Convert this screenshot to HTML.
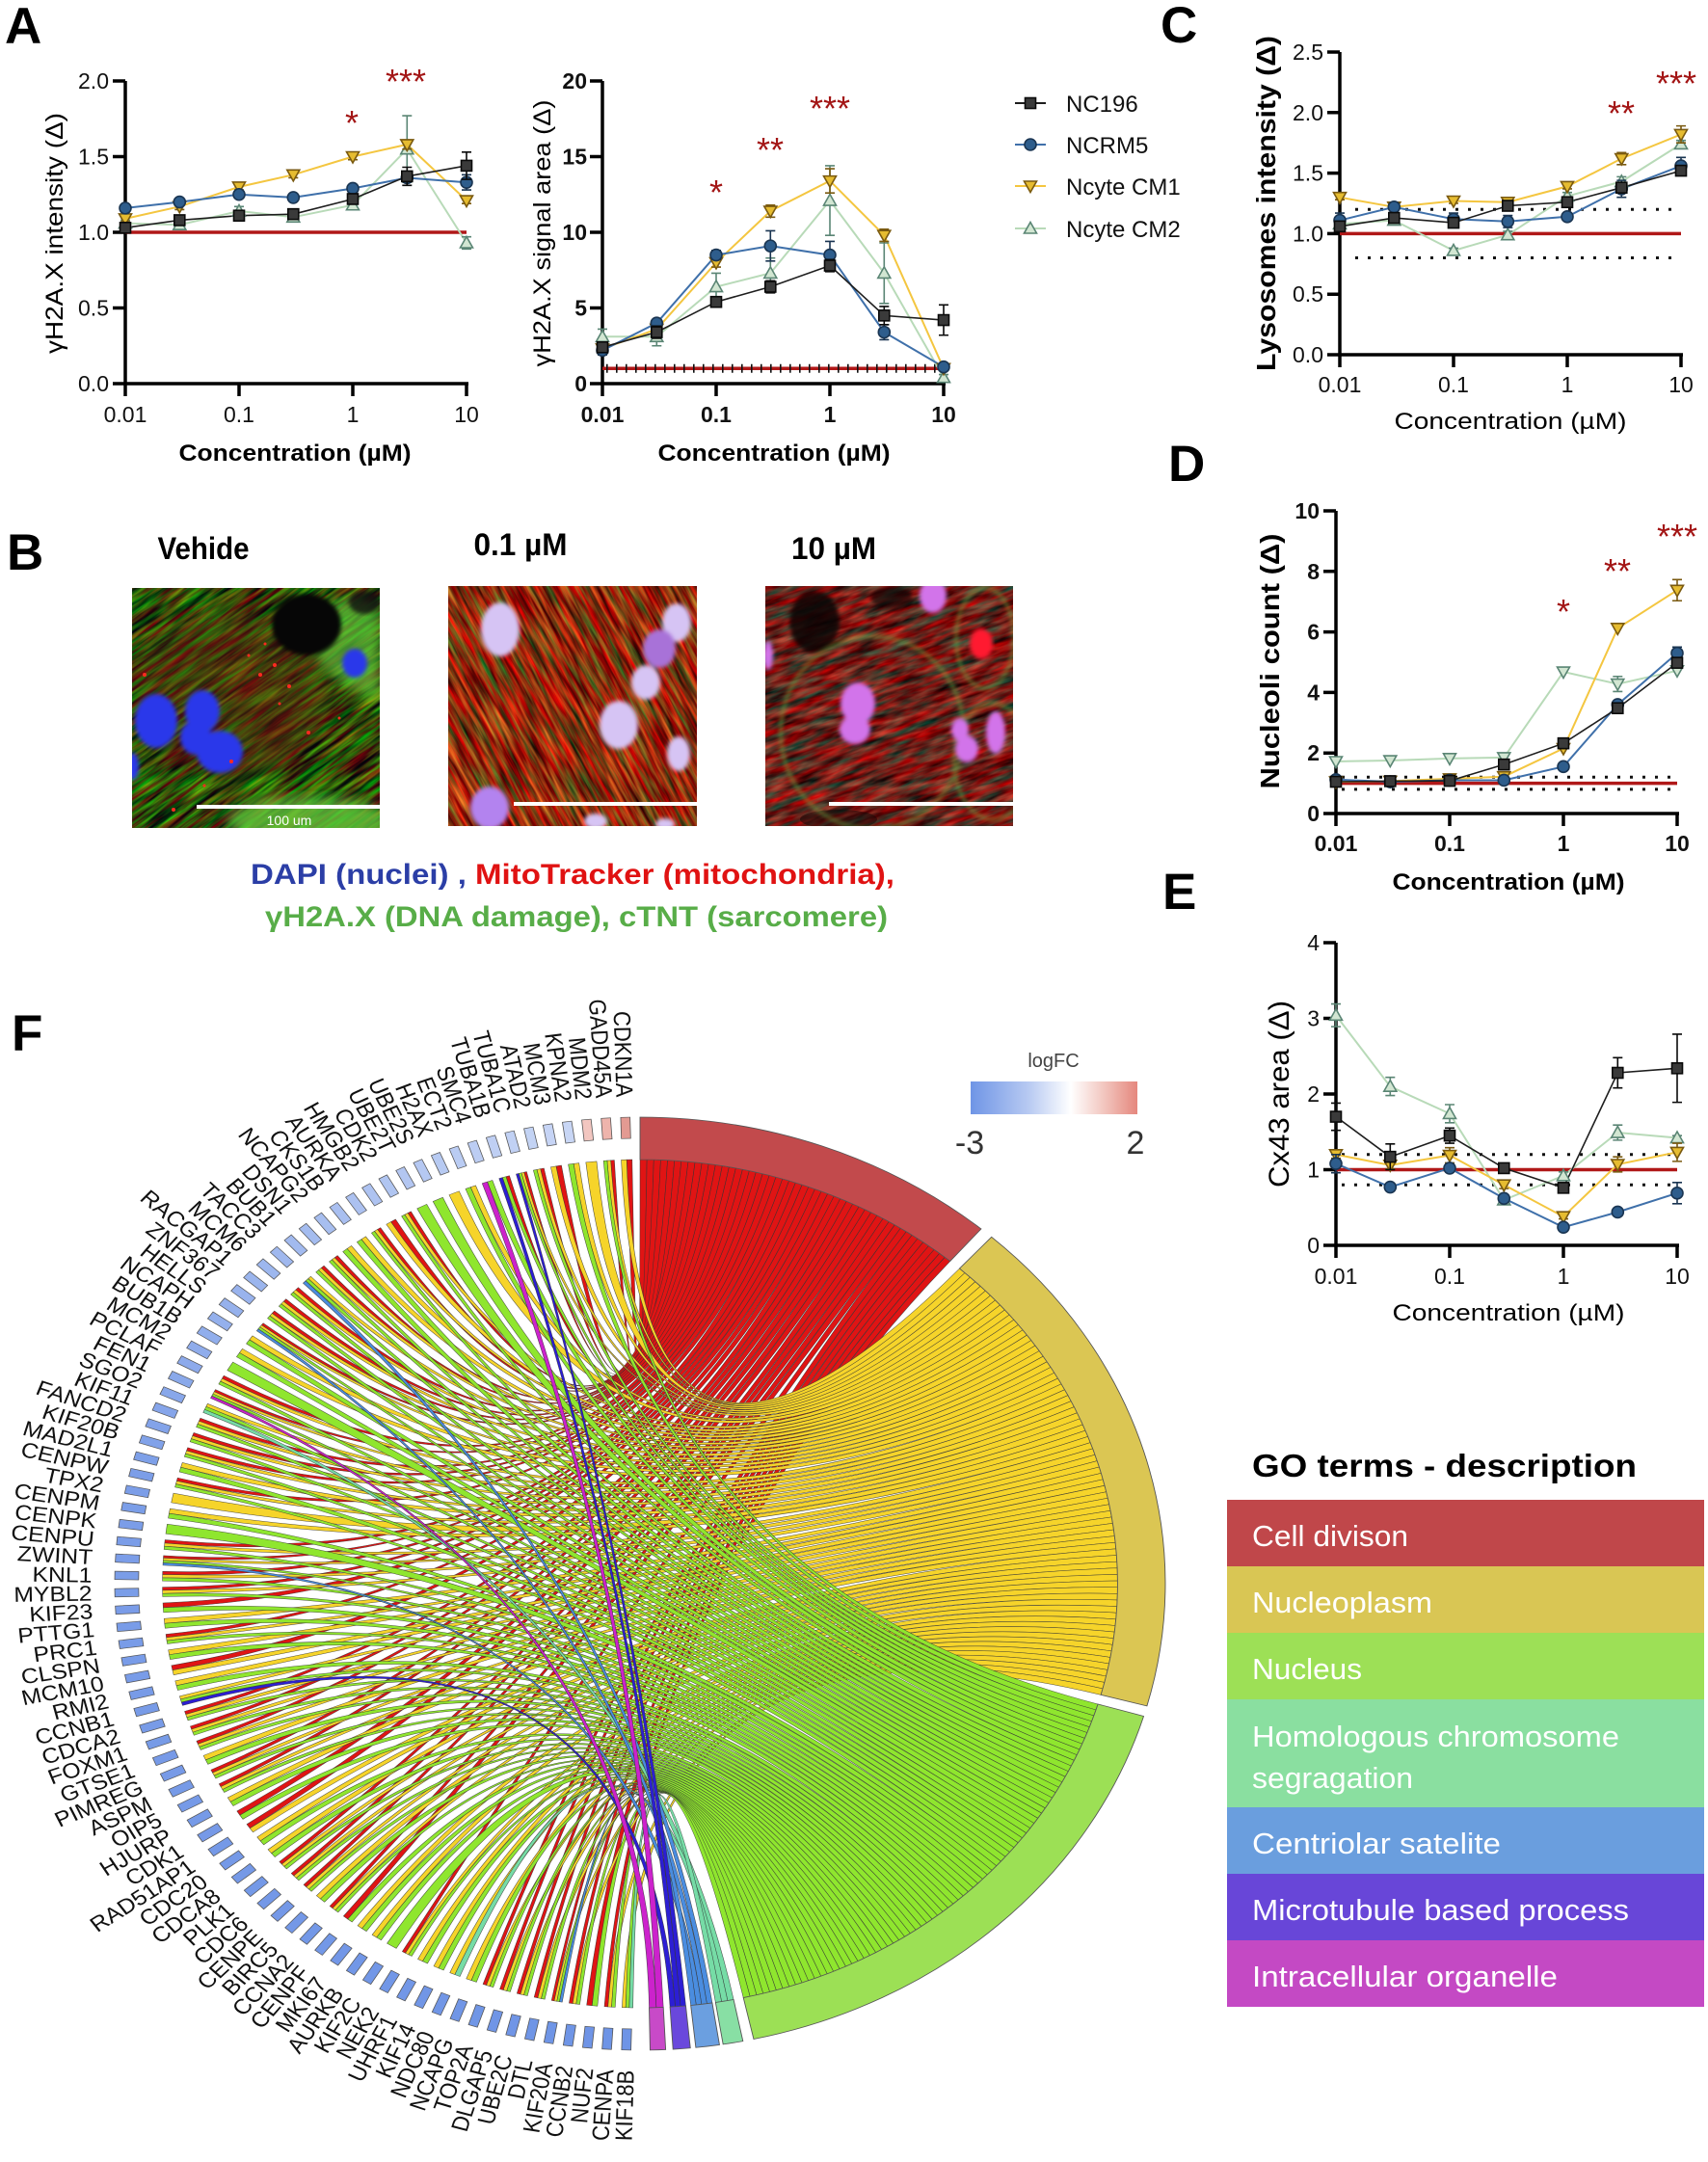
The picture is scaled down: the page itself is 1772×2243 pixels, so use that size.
<!DOCTYPE html>
<html><head><meta charset="utf-8">
<style>
html,body{margin:0;padding:0;background:#fff;width:1772px;height:2243px;overflow:hidden;}
svg{display:block;}
text{font-family:"Liberation Sans",sans-serif;}
</style></head><body>
<svg xmlns="http://www.w3.org/2000/svg" width="1772" height="2243" viewBox="0 0 1772 2243">
<defs>
<filter id="fib1" x="0" y="0" width="100%" height="100%" color-interpolation-filters="sRGB"><feTurbulence type="fractalNoise" baseFrequency="0.02 0.22" numOctaves="3" seed="4"/><feColorMatrix type="matrix" values="0 1.0 0 0 -0.3  1.4 0 0 0 -0.4  0 0 0 0 0.04  0 0 0 0 1"/></filter>
<filter id="fib2" x="0" y="0" width="100%" height="100%" color-interpolation-filters="sRGB"><feTurbulence type="fractalNoise" baseFrequency="0.02 0.22" numOctaves="3" seed="9"/><feColorMatrix type="matrix" values="0 1.4 0 0 -0.15  1.0 0 0 0 -0.32  0.3 0 0 0 -0.1  0 0 0 0 1"/></filter>
<filter id="fib3" x="0" y="0" width="100%" height="100%" color-interpolation-filters="sRGB"><feTurbulence type="fractalNoise" baseFrequency="0.03 0.15" numOctaves="3" seed="21"/><feColorMatrix type="matrix" values="0 1.2 0 0 -0.18  0.7 0 0 0 -0.22  0.5 0 0 0 -0.15  0 0 0 0 1"/></filter>
<filter id="bl2" color-interpolation-filters="sRGB"><feGaussianBlur stdDeviation="2"/></filter>
<filter id="bl6" color-interpolation-filters="sRGB"><feGaussianBlur stdDeviation="6"/></filter>
<clipPath id="c1"><rect x="137" y="610" width="257" height="249"/></clipPath>
<clipPath id="c2"><rect x="465" y="608" width="258" height="249"/></clipPath>
<clipPath id="c3"><rect x="794" y="608" width="257" height="249"/></clipPath>
<linearGradient id="lfc" x1="0" x2="1" y1="0" y2="0"><stop offset="0" stop-color="#6f95e6"/><stop offset="0.35" stop-color="#b8caf2"/><stop offset="0.6" stop-color="#ffffff"/><stop offset="0.8" stop-color="#f2c6bf"/><stop offset="1" stop-color="#e5877d"/></linearGradient>
</defs>
<rect width="1772" height="2243" fill="#fff"/>

<!-- Panel letters -->
<g font-size="53" font-weight="bold" fill="#000">
<text x="5" y="45">A</text>
<text x="1204" y="44">C</text>
<text x="7" y="591">B</text>
<text x="1212" y="499">D</text>
<text x="1206" y="943">E</text>
<text x="12" y="1090">F</text>
</g>

<!-- ===== A1 ===== -->
<g stroke="#000" fill="none" stroke-width="3.5">
<path d="M130,84 V398 H486"/>
<path d="M117,84H130M117,162.5H130M117,241H130M117,319.5H130M117,398H130"/>
<path d="M130,398V411M248,398V411M366,398V411M484,398V411"/>
</g>
<g font-size="23" text-anchor="end" fill="#111">
<text x="113" y="92">2.0</text><text x="113" y="170.5">1.5</text><text x="113" y="249">1.0</text><text x="113" y="327.5">0.5</text><text x="113" y="406">0.0</text>
</g>
<g font-size="23" text-anchor="middle" fill="#111">
<text x="130" y="438">0.01</text><text x="248" y="438">0.1</text><text x="366" y="438">1</text><text x="484" y="438">10</text>
</g>
<text x="306" y="478" text-anchor="middle" font-size="24" font-weight="bold" textLength="241" lengthAdjust="spacingAndGlyphs">Concentration (µM)</text>
<text transform="translate(65,242) rotate(-90)" text-anchor="middle" font-size="25" textLength="250" lengthAdjust="spacingAndGlyphs">γH2A.X intensity (Δ)</text>
<line x1="130" y1="241" x2="484" y2="241" stroke="#b01818" stroke-width="3.5"/>

<!-- ===== A2 ===== -->
<g stroke="#000" fill="none" stroke-width="3.5">
<path d="M625,84 V398 H981"/>
<path d="M612,84H625M612,162.5H625M612,241H625M612,319.5H625M612,398H625"/>
<path d="M625,398V411M743,398V411M861,398V411M979,398V411"/>
</g>
<g font-size="23" font-weight="bold" text-anchor="end" fill="#111">
<text x="609" y="92">20</text><text x="609" y="170.5">15</text><text x="609" y="249">10</text><text x="609" y="327.5">5</text><text x="609" y="406">0</text>
</g>
<g font-size="23" font-weight="bold" text-anchor="middle" fill="#111">
<text x="625" y="438">0.01</text><text x="743" y="438">0.1</text><text x="861" y="438">1</text><text x="979" y="438">10</text>
</g>
<text x="803" y="478" text-anchor="middle" font-size="24" font-weight="bold" textLength="241" lengthAdjust="spacingAndGlyphs">Concentration (µM)</text>
<text transform="translate(571,242) rotate(-90)" text-anchor="middle" font-size="25" textLength="277" lengthAdjust="spacingAndGlyphs">γH2A.X signal area (Δ)</text>
<line x1="625" y1="382.3" x2="979" y2="382.3" stroke="#b01818" stroke-width="3.5"/>
<line x1="629" y1="382.3" x2="979" y2="382.3" stroke="#111" stroke-width="9" stroke-dasharray="1.6 8.4"/>

<!-- legend -->
<g stroke-width="2">
<line x1="1053" y1="107" x2="1085" y2="107" stroke="#1e1e1e"/>
<line x1="1053" y1="150" x2="1085" y2="150" stroke="#3f70aa"/>
<line x1="1053" y1="193" x2="1085" y2="193" stroke="#f4c640"/>
<line x1="1053" y1="237" x2="1085" y2="237" stroke="#b8dab8"/>
</g>
<rect x="1063.5" y="101.5" width="11" height="11" fill="#3a3a3a" stroke="#0a0a0a" stroke-width="1.6"/>
<circle cx="1069" cy="150" r="6" fill="#2e5d8c" stroke="#1a3552" stroke-width="1.6"/>
<path d="M1062.5,188 L1075.5,188 L1069,199.5 Z" fill="#e6bc30" stroke="#7a5a10" stroke-width="1.6"/>
<path d="M1062.5,242 L1075.5,242 L1069,230.5 Z" fill="#d2e6d2" stroke="#5a8574" stroke-width="1.6"/>
<g font-size="24" fill="#111">
<text x="1106" y="116">NC196</text><text x="1106" y="159">NCRM5</text><text x="1106" y="202">Ncyte CM1</text><text x="1106" y="246">Ncyte CM2</text>
</g>

<!-- ===== C ===== -->
<g stroke="#000" fill="none" stroke-width="3.5">
<path d="M1390,54 V368 H1746"/>
<path d="M1377,54H1390M1377,116.8H1390M1377,179.6H1390M1377,242.4H1390M1377,305.2H1390M1377,368H1390"/>
<path d="M1390,368V381M1508,368V381M1626,368V381M1744,368V381"/>
</g>
<g font-size="23" text-anchor="end" fill="#111">
<text x="1373" y="62">2.5</text><text x="1373" y="124.8">2.0</text><text x="1373" y="187.6">1.5</text><text x="1373" y="250.4">1.0</text><text x="1373" y="313.2">0.5</text><text x="1373" y="376">0.0</text>
</g>
<g font-size="23" text-anchor="middle" fill="#111">
<text x="1390" y="407">0.01</text><text x="1508" y="407">0.1</text><text x="1626" y="407">1</text><text x="1744" y="407">10</text>
</g>
<text x="1567" y="445" text-anchor="middle" font-size="24" textLength="241" lengthAdjust="spacingAndGlyphs">Concentration (µM)</text>
<text transform="translate(1323,211) rotate(-90)" text-anchor="middle" font-size="28" font-weight="bold" textLength="348" lengthAdjust="spacingAndGlyphs">Lysosomes intensity (Δ)</text>
<g stroke="#111" stroke-width="3" stroke-dasharray="3 10">
<line x1="1406" y1="217.3" x2="1744" y2="217.3"/><line x1="1406" y1="267.5" x2="1744" y2="267.5"/>
</g>
<line x1="1390" y1="242.4" x2="1744" y2="242.4" stroke="#b01818" stroke-width="3.5"/>

<!-- ===== D ===== -->
<g stroke="#000" fill="none" stroke-width="3.5">
<path d="M1386,530 V844 H1742"/>
<path d="M1373,530H1386M1373,592.8H1386M1373,655.6H1386M1373,718.4H1386M1373,781.2H1386M1373,844H1386"/>
<path d="M1386,844V857M1504,844V857M1622,844V857M1740,844V857"/>
</g>
<g font-size="23" font-weight="bold" text-anchor="end" fill="#111">
<text x="1369" y="538">10</text><text x="1369" y="600.8">8</text><text x="1369" y="663.6">6</text><text x="1369" y="726.4">4</text><text x="1369" y="789.2">2</text><text x="1369" y="852">0</text>
</g>
<g font-size="23" font-weight="bold" text-anchor="middle" fill="#111">
<text x="1386" y="883">0.01</text><text x="1504" y="883">0.1</text><text x="1622" y="883">1</text><text x="1740" y="883">10</text>
</g>
<text x="1565" y="923" text-anchor="middle" font-size="24" font-weight="bold" textLength="241" lengthAdjust="spacingAndGlyphs">Concentration (µM)</text>
<text transform="translate(1327,686) rotate(-90)" text-anchor="middle" font-size="28" font-weight="bold" textLength="265" lengthAdjust="spacingAndGlyphs">Nucleoli count (Δ)</text>
<g stroke="#111" stroke-width="3" stroke-dasharray="3 10">
<line x1="1392" y1="806.3" x2="1740" y2="806.3"/><line x1="1392" y1="818.9" x2="1740" y2="818.9"/>
</g>
<line x1="1386" y1="812.6" x2="1740" y2="812.6" stroke="#b01818" stroke-width="3.5"/>

<!-- ===== E ===== -->
<g stroke="#000" fill="none" stroke-width="3.5">
<path d="M1386,978 V1292 H1742"/>
<path d="M1373,978H1386M1373,1056.5H1386M1373,1135H1386M1373,1213.5H1386M1373,1292H1386"/>
<path d="M1386,1292V1305M1504,1292V1305M1622,1292V1305M1740,1292V1305"/>
</g>
<g font-size="23" text-anchor="end" fill="#111">
<text x="1369" y="986">4</text><text x="1369" y="1064.5">3</text><text x="1369" y="1143">2</text><text x="1369" y="1221.5">1</text><text x="1369" y="1300">0</text>
</g>
<g font-size="23" text-anchor="middle" fill="#111">
<text x="1386" y="1332">0.01</text><text x="1504" y="1332">0.1</text><text x="1622" y="1332">1</text><text x="1740" y="1332">10</text>
</g>
<text x="1565" y="1370" text-anchor="middle" font-size="24" textLength="241" lengthAdjust="spacingAndGlyphs">Concentration (µM)</text>
<text transform="translate(1337,1135) rotate(-90)" text-anchor="middle" font-size="30" textLength="194" lengthAdjust="spacingAndGlyphs">Cx43 area (Δ)</text>
<g stroke="#111" stroke-width="3" stroke-dasharray="3 10">
<line x1="1392" y1="1197.8" x2="1740" y2="1197.8"/><line x1="1392" y1="1229.2" x2="1740" y2="1229.2"/>
</g>
<line x1="1386" y1="1213.5" x2="1740" y2="1213.5" stroke="#b01818" stroke-width="3.5"/>

<!-- data series container -->
<g id="dyn"></g>

<!-- stars -->
<g font-size="36" fill="#a31515" text-anchor="middle">
<text x="365" y="140">*</text><text x="421" y="97">***</text>
<text x="743" y="212">*</text><text x="799" y="168">**</text><text x="861" y="125">***</text>
<text x="1682" y="130">**</text><text x="1739" y="99">***</text>
<text x="1622" y="647">*</text><text x="1678" y="605">**</text><text x="1740" y="569">***</text>
</g>

<!-- ===== B ===== -->
<g font-size="32" font-weight="bold" text-anchor="middle" fill="#000">
<text x="211" y="580" textLength="95" lengthAdjust="spacingAndGlyphs">Vehide</text>
<text x="540" y="576" textLength="97" lengthAdjust="spacingAndGlyphs">0.1 µM</text>
<text x="865" y="580" textLength="88" lengthAdjust="spacingAndGlyphs">10 µM</text>
</g>
<!-- image 1 -->
<g clip-path="url(#c1)">
<rect x="137" y="610" width="257" height="249" fill="#22280f"/>
<g transform="rotate(-35 265 735)"><rect x="20" y="480" width="490" height="510" filter="url(#fib1)" opacity="0.9"/></g>
<ellipse cx="240" cy="720" rx="100" ry="85" fill="#6a2410" opacity="0.4" filter="url(#bl6)"/>
<path d="M325,640 C350,615 394,615 394,640 L394,725 C370,718 345,705 330,685 Z" fill="#5ec83a" opacity="0.7" filter="url(#bl6)"/>
<ellipse cx="318" cy="648" rx="36" ry="32" fill="#060606" filter="url(#bl2)"/>
<ellipse cx="378" cy="625" rx="16" ry="12" fill="#101010" opacity="0.8" filter="url(#bl2)"/>
<ellipse cx="320" cy="852" rx="85" ry="26" fill="#68cc3e" opacity="0.75" filter="url(#bl6)"/>
<g fill="#2a38ea" filter="url(#bl2)">
<ellipse cx="162" cy="748" rx="22" ry="28"/><ellipse cx="210" cy="738" rx="18" ry="22"/><ellipse cx="203" cy="765" rx="16" ry="18"/><ellipse cx="228" cy="780" rx="24" ry="22"/><ellipse cx="368" cy="688" rx="13" ry="15"/><ellipse cx="138" cy="795" rx="6" ry="14"/>
</g>
<g fill="#ff2a20"><circle cx="270" cy="700" r="2"/><circle cx="285" cy="690" r="2"/><circle cx="300" cy="712" r="2"/><circle cx="258" cy="680" r="1.5"/><circle cx="240" cy="790" r="2"/><circle cx="320" cy="760" r="2"/><circle cx="352" cy="745" r="1.5"/><circle cx="180" cy="840" r="2"/><circle cx="150" cy="700" r="2"/><circle cx="212" cy="815" r="1.5"/><circle cx="290" cy="730" r="1.5"/><circle cx="275" cy="668" r="1.5"/></g>
<rect x="204" y="835" width="190" height="4" fill="#fff"/>
<text x="300" y="856" font-size="14" fill="#fff" text-anchor="middle">100 um</text>
</g>
<!-- image 2 -->
<g clip-path="url(#c2)">
<rect x="465" y="608" width="258" height="249" fill="#7e2c1a"/>
<g transform="rotate(62 594 732)"><rect x="350" y="480" width="490" height="510" filter="url(#fib2)" opacity="0.92"/></g>
<g fill="#d6c4f4" filter="url(#bl2)">
<ellipse cx="519" cy="653" rx="20" ry="28"/><ellipse cx="702" cy="646" rx="15" ry="20"/><ellipse cx="684" cy="673" rx="17" ry="20" fill="#a872d8"/><ellipse cx="670" cy="708" rx="15" ry="18"/><ellipse cx="642" cy="752" rx="20" ry="25"/><ellipse cx="704" cy="782" rx="12" ry="18"/><ellipse cx="508" cy="838" rx="20" ry="22" fill="#b383ef"/><ellipse cx="618" cy="852" rx="12" ry="8"/><ellipse cx="690" cy="855" rx="10" ry="6"/>
</g>
<rect x="533" y="832" width="190" height="4" fill="#fff"/>
</g>
<!-- image 3 -->
<g clip-path="url(#c3)">
<rect x="794" y="608" width="257" height="249" fill="#6a2420"/>
<g transform="rotate(-20 922 732)"><rect x="680" y="480" width="490" height="510" filter="url(#fib3)" opacity="0.92"/></g>
<ellipse cx="845" cy="645" rx="26" ry="32" fill="#0a0404" opacity="0.85" filter="url(#bl2)"/>
<ellipse cx="925" cy="620" rx="22" ry="12" fill="#0a0505" opacity="0.7" filter="url(#bl2)"/>
<ellipse cx="870" cy="850" rx="40" ry="10" fill="#0a0505" opacity="0.5"/>
<g fill="none" stroke="#6da040" stroke-width="4" opacity="0.55" filter="url(#bl2)">
<ellipse cx="1022" cy="662" rx="30" ry="52"/><ellipse cx="905" cy="760" rx="95" ry="100"/><ellipse cx="1030" cy="790" rx="40" ry="60"/>
</g>
<ellipse cx="1018" cy="668" rx="12" ry="16" fill="#ff1a30" filter="url(#bl2)"/>
<g fill="#d274ea" filter="url(#bl2)">
<ellipse cx="968" cy="618" rx="14" ry="18"/><ellipse cx="890" cy="730" rx="18" ry="22"/><ellipse cx="887" cy="757" rx="16" ry="15"/><ellipse cx="996" cy="757" rx="9" ry="12"/><ellipse cx="1003" cy="777" rx="12" ry="14"/><ellipse cx="1033" cy="760" rx="10" ry="22"/><ellipse cx="797" cy="680" rx="5" ry="15"/>
</g>
<rect x="860" y="832" width="191" height="4" fill="#fff"/>
</g>
<text x="260" y="917" font-size="30" font-weight="bold" textLength="668" lengthAdjust="spacingAndGlyphs"><tspan fill="#2b3ea6">DAPI (nuclei) , </tspan><tspan fill="#e01212">MitoTracker (mitochondria),</tspan></text>
<text x="275" y="961" font-size="30" font-weight="bold" fill="#58ad48" textLength="646" lengthAdjust="spacingAndGlyphs">γH2A.X (DNA damage), cTNT (sarcomere)</text>

<!-- ===== logFC legend ===== -->
<text x="1093" y="1107" font-size="20" fill="#444" text-anchor="middle">logFC</text>
<rect x="1007" y="1122" width="173" height="34" fill="url(#lfc)"/>
<text x="1006" y="1197" font-size="34" fill="#333" text-anchor="middle">-3</text>
<text x="1178" y="1197" font-size="34" fill="#333" text-anchor="middle">2</text>

<!-- ===== F chord ===== -->
<g id="chordg" transform="translate(664,1643) scale(1.126,1)">
<g id="rib"></g>
<g id="bands"></g>
<g id="gboxes"></g>
<g font-size="22" text-anchor="end" fill="#111">
<text transform="rotate(88.40) translate(-505,0)" dy="0.35em">CDKN1A</text>
<text transform="rotate(86.27) translate(-505,0)" dy="0.35em">GADD45A</text>
<text transform="rotate(84.14) translate(-505,0)" dy="0.35em">MDM2</text>
<text transform="rotate(82.01) translate(-505,0)" dy="0.35em">KPNA2</text>
<text transform="rotate(79.87) translate(-505,0)" dy="0.35em">MCM3</text>
<text transform="rotate(77.74) translate(-505,0)" dy="0.35em">ATAD2</text>
<text transform="rotate(75.61) translate(-505,0)" dy="0.35em">TUBA1C</text>
<text transform="rotate(73.48) translate(-505,0)" dy="0.35em">TUBA1B</text>
<text transform="rotate(71.35) translate(-505,0)" dy="0.35em">SMC4</text>
<text transform="rotate(69.22) translate(-505,0)" dy="0.35em">ECT2</text>
<text transform="rotate(67.09) translate(-505,0)" dy="0.35em">H2AX</text>
<text transform="rotate(64.96) translate(-505,0)" dy="0.35em">UBE2S</text>
<text transform="rotate(62.82) translate(-505,0)" dy="0.35em">UBE2T</text>
<text transform="rotate(60.69) translate(-505,0)" dy="0.35em">CDK2</text>
<text transform="rotate(58.56) translate(-505,0)" dy="0.35em">HMGB2</text>
<text transform="rotate(56.43) translate(-505,0)" dy="0.35em">AURKA</text>
<text transform="rotate(54.30) translate(-505,0)" dy="0.35em">CKS1B</text>
<text transform="rotate(52.17) translate(-505,0)" dy="0.35em">NCAPG2</text>
<text transform="rotate(50.04) translate(-505,0)" dy="0.35em">DSN1</text>
<text transform="rotate(47.91) translate(-505,0)" dy="0.35em">BUB1</text>
<text transform="rotate(45.77) translate(-505,0)" dy="0.35em">TACC3</text>
<text transform="rotate(43.64) translate(-505,0)" dy="0.35em">MCM6</text>
<text transform="rotate(41.51) translate(-505,0)" dy="0.35em">RACGAP1</text>
<text transform="rotate(39.38) translate(-505,0)" dy="0.35em">ZNF367</text>
<text transform="rotate(37.25) translate(-505,0)" dy="0.35em">HELLS</text>
<text transform="rotate(35.12) translate(-505,0)" dy="0.35em">NCAPH</text>
<text transform="rotate(32.99) translate(-505,0)" dy="0.35em">BUB1B</text>
<text transform="rotate(30.86) translate(-505,0)" dy="0.35em">MCM2</text>
<text transform="rotate(28.72) translate(-505,0)" dy="0.35em">PCLAF</text>
<text transform="rotate(26.59) translate(-505,0)" dy="0.35em">FEN1</text>
<text transform="rotate(24.46) translate(-505,0)" dy="0.35em">SGO2</text>
<text transform="rotate(22.33) translate(-505,0)" dy="0.35em">KIF11</text>
<text transform="rotate(20.20) translate(-505,0)" dy="0.35em">FANCD2</text>
<text transform="rotate(18.07) translate(-505,0)" dy="0.35em">KIF20B</text>
<text transform="rotate(15.94) translate(-505,0)" dy="0.35em">MAD2L1</text>
<text transform="rotate(13.81) translate(-505,0)" dy="0.35em">CENPW</text>
<text transform="rotate(11.67) translate(-505,0)" dy="0.35em">TPX2</text>
<text transform="rotate(9.54) translate(-505,0)" dy="0.35em">CENPM</text>
<text transform="rotate(7.41) translate(-505,0)" dy="0.35em">CENPK</text>
<text transform="rotate(5.28) translate(-505,0)" dy="0.35em">CENPU</text>
<text transform="rotate(3.15) translate(-505,0)" dy="0.35em">ZWINT</text>
<text transform="rotate(1.02) translate(-505,0)" dy="0.35em">KNL1</text>
<text transform="rotate(-1.11) translate(-505,0)" dy="0.35em">MYBL2</text>
<text transform="rotate(-3.24) translate(-505,0)" dy="0.35em">KIF23</text>
<text transform="rotate(-5.38) translate(-505,0)" dy="0.35em">PTTG1</text>
<text transform="rotate(-7.51) translate(-505,0)" dy="0.35em">PRC1</text>
<text transform="rotate(-9.64) translate(-505,0)" dy="0.35em">CLSPN</text>
<text transform="rotate(-11.77) translate(-505,0)" dy="0.35em">MCM10</text>
<text transform="rotate(-13.90) translate(-505,0)" dy="0.35em">RMI2</text>
<text transform="rotate(-16.03) translate(-505,0)" dy="0.35em">CCNB1</text>
<text transform="rotate(-18.16) translate(-505,0)" dy="0.35em">CDCA2</text>
<text transform="rotate(-20.29) translate(-505,0)" dy="0.35em">FOXM1</text>
<text transform="rotate(-22.43) translate(-505,0)" dy="0.35em">GTSE1</text>
<text transform="rotate(-24.56) translate(-505,0)" dy="0.35em">PIMREG</text>
<text transform="rotate(-26.69) translate(-505,0)" dy="0.35em">ASPM</text>
<text transform="rotate(-28.82) translate(-505,0)" dy="0.35em">OIP5</text>
<text transform="rotate(-30.95) translate(-505,0)" dy="0.35em">HJURP</text>
<text transform="rotate(-33.08) translate(-505,0)" dy="0.35em">CDK1</text>
<text transform="rotate(-35.21) translate(-505,0)" dy="0.35em">RAD51AP1</text>
<text transform="rotate(-37.34) translate(-505,0)" dy="0.35em">CDC20</text>
<text transform="rotate(-39.48) translate(-505,0)" dy="0.35em">CDCA8</text>
<text transform="rotate(-41.61) translate(-505,0)" dy="0.35em">PLK1</text>
<text transform="rotate(-43.74) translate(-505,0)" dy="0.35em">CDC6</text>
<text transform="rotate(-45.87) translate(-505,0)" dy="0.35em">CENPE</text>
<text transform="rotate(-48.00) translate(-505,0)" dy="0.35em">BIRC5</text>
<text transform="rotate(-50.13) translate(-505,0)" dy="0.35em">CCNA2</text>
<text transform="rotate(-52.26) translate(-505,0)" dy="0.35em">CENPF</text>
<text transform="rotate(-54.39) translate(-505,0)" dy="0.35em">MKI67</text>
<text transform="rotate(-56.53) translate(-505,0)" dy="0.35em">AURKB</text>
<text transform="rotate(-58.66) translate(-505,0)" dy="0.35em">KIF2C</text>
<text transform="rotate(-60.79) translate(-505,0)" dy="0.35em">NEK2</text>
<text transform="rotate(-62.92) translate(-505,0)" dy="0.35em">UHRF1</text>
<text transform="rotate(-65.05) translate(-505,0)" dy="0.35em">KIF14</text>
<text transform="rotate(-67.18) translate(-505,0)" dy="0.35em">NDC80</text>
<text transform="rotate(-69.31) translate(-505,0)" dy="0.35em">NCAPG</text>
<text transform="rotate(-71.44) translate(-505,0)" dy="0.35em">TOP2A</text>
<text transform="rotate(-73.58) translate(-505,0)" dy="0.35em">DLGAP5</text>
<text transform="rotate(-75.71) translate(-505,0)" dy="0.35em">UBE2C</text>
<text transform="rotate(-77.84) translate(-505,0)" dy="0.35em">DTL</text>
<text transform="rotate(-79.97) translate(-505,0)" dy="0.35em">KIF20A</text>
<text transform="rotate(-82.10) translate(-505,0)" dy="0.35em">CCNB2</text>
<text transform="rotate(-84.23) translate(-505,0)" dy="0.35em">NUF2</text>
<text transform="rotate(-86.36) translate(-505,0)" dy="0.35em">CENPA</text>
<text transform="rotate(-88.49) translate(-505,0)" dy="0.35em">KIF18B</text>
</g>
</g>

<!-- ===== GO legend ===== -->
<text x="1299" y="1532" font-size="33" font-weight="bold" textLength="399" lengthAdjust="spacingAndGlyphs">GO terms - description</text>
<rect x="1273" y="1556" width="495" height="69" fill="#c0474a"/>
<rect x="1273" y="1625" width="495" height="69" fill="#d9c654"/>
<rect x="1273" y="1694" width="495" height="69" fill="#9de056"/>
<rect x="1273" y="1763" width="495" height="112" fill="#8adfa0"/>
<rect x="1273" y="1875" width="495" height="69" fill="#6a9ede"/>
<rect x="1273" y="1944" width="495" height="69" fill="#6846d8"/>
<rect x="1273" y="2013" width="495" height="69" fill="#c449c4"/>
<g font-size="31" fill="#fff">
<text x="1299" y="1604" textLength="162" lengthAdjust="spacingAndGlyphs">Cell divison</text>
<text x="1299" y="1673" textLength="187" lengthAdjust="spacingAndGlyphs">Nucleoplasm</text>
<text x="1299" y="1742" textLength="114" lengthAdjust="spacingAndGlyphs">Nucleus</text>
<text x="1299" y="1812" textLength="381" lengthAdjust="spacingAndGlyphs">Homologous chromosome</text>
<text x="1299" y="1855" textLength="167" lengthAdjust="spacingAndGlyphs">segragation</text>
<text x="1299" y="1923" textLength="258" lengthAdjust="spacingAndGlyphs">Centriolar satelite</text>
<text x="1299" y="1992" textLength="391" lengthAdjust="spacingAndGlyphs">Microtubule based process</text>
<text x="1299" y="2061" textLength="317" lengthAdjust="spacingAndGlyphs">Intracellular organelle</text>
</g>
</svg>

<script>
(function(){
const NS='http://www.w3.org/2000/svg';
function el(tag,attrs,parent){const e=document.createElementNS(NS,tag);for(const k in attrs)e.setAttribute(k,attrs[k]);parent.appendChild(e);return e;}
const dyn=document.getElementById('dyn');
const XS=[0,0.47712,1,1.47712,2,2.47712,3];
const ST=[{l:'#1e1e1e',w:1.6,m:'sq',f:'#3a3a3a',s:'#0a0a0a'},{l:'#3f70aa',w:2,m:'ci',f:'#2e5d8c',s:'#1a3552'},{l:'#f4c640',w:2,m:'dt',f:'#e6bc30',s:'#7a5a10'},{l:'#b8dab8',w:2,m:'ut',f:'#d2e6d2',s:'#5a8574'}];
function marker(t,x,y,f,s,g){
 if(t==='sq')el('rect',{x:x-5.5,y:y-5.5,width:11,height:11,fill:f,stroke:s,'stroke-width':1.6},g);
 else if(t==='ci')el('circle',{cx:x,cy:y,r:6,fill:f,stroke:s,'stroke-width':1.6},g);
 else if(t==='dt')el('path',{d:'M'+(x-6.5)+','+(y-5)+' L'+(x+6.5)+','+(y-5)+' L'+x+','+(y+6.5)+' Z',fill:f,stroke:s,'stroke-width':1.6},g);
 else el('path',{d:'M'+(x-6.5)+','+(y+5)+' L'+(x+6.5)+','+(y+5)+' L'+x+','+(y-6.5)+' Z',fill:f,stroke:s,'stroke-width':1.6},g);
}
function plot(p){
 const g=el('g',{},dyn);
 const X=i=>p.x0+p.dec*XS[i],Y=v=>p.y0-v*p.ppu;
 const ord=[3,2,1,0];
 ord.forEach(k=>{el('polyline',{points:p.d[k].map((v,i)=>X(i).toFixed(1)+','+Y(v).toFixed(1)).join(' '),fill:'none',stroke:ST[k].l,'stroke-width':ST[k].w},g);});
 ord.forEach(k=>{const st=ST[k];const m=(k===3&&p.cm2m)?p.cm2m:st.m;
  p.d[k].forEach((v,i)=>{const e=(p.e&&p.e[k])?p.e[k][i]:0;const x=X(i);
   if(e>0){const y1=Y(v+e),y2=Y(v-e);el('path',{d:'M'+x+','+y1+'V'+y2+'M'+(x-5)+','+y1+'H'+(x+5)+'M'+(x-5)+','+y2+'H'+(x+5),stroke:st.s,'stroke-width':1.6,fill:'none'},g);}
   marker(m,x,Y(v),st.f,st.s,g);});});
}
plot({x0:130,dec:118,y0:398,ppu:157,
 d:[[1.03,1.08,1.11,1.12,1.22,1.37,1.44],[1.16,1.20,1.25,1.23,1.29,1.36,1.33],[1.09,1.17,1.30,1.38,1.50,1.58,1.21],[1.06,1.05,1.14,1.10,1.18,1.55,0.93]],
 e:[[0.02,0.02,0.02,0.02,0.03,0.06,0.09],[0.02,0.02,0.02,0.02,0.02,0.02,0.05],[0.02,0.02,0.02,0.02,0.02,0.03,0.02],[0.02,0.02,0.03,0.02,0.02,0.22,0.04]]});
plot({x0:625,dec:118,y0:398,ppu:15.7,
 d:[[2.4,3.4,5.4,6.4,7.8,4.5,4.2],[2.2,4.0,8.5,9.1,8.5,3.4,1.1],[2.3,3.6,8.0,11.4,13.4,9.8,1.0],[3.1,3.1,6.4,7.3,12.1,7.3,0.4]],
 e:[[0.3,0.4,0.3,0.4,0.4,0.6,1.0],[0.3,0.2,0.3,1.0,0.9,0.5,0.1],[0.2,0.2,0.3,0.4,0.8,0.4,0.1],[0.5,0.6,0.9,1.0,2.3,2.0,0.2]]});
plot({x0:1390,dec:118,y0:368,ppu:125.6,
 d:[[1.06,1.13,1.09,1.23,1.26,1.38,1.52],[1.11,1.22,1.12,1.10,1.14,1.37,1.56],[1.30,1.22,1.27,1.26,1.39,1.62,1.82],[1.08,1.11,0.86,0.99,1.31,1.43,1.74]],
 e:[[0.02,0.02,0.02,0.02,0.02,0.03,0.02],[0.06,0.03,0.05,0.05,0.03,0.07,0.07],[0.02,0.02,0.02,0.02,0.02,0.05,0.07],[0.02,0.02,0.02,0.03,0.03,0.04,0.03]]});
plot({x0:1386,dec:118,y0:844,ppu:31.4,cm2m:'dt',
 d:[[1.05,1.07,1.08,1.62,2.32,3.48,4.98],[1.12,1.05,1.10,1.10,1.55,3.60,5.30],[1.05,1.07,1.15,1.22,2.15,6.12,7.38],[1.72,1.75,1.82,1.85,4.68,4.28,4.72]],
 e:[[0,0,0,0,0,0,0.15],[0,0,0,0,0,0,0.2],[0,0,0,0,0,0,0.35],[0,0,0,0,0,0.25,0]]});
plot({x0:1386,dec:118,y0:1292,ppu:78.5,
 d:[[1.70,1.17,1.45,1.02,0.76,2.28,2.34],[1.08,0.77,1.02,0.62,0.24,0.44,0.69],[1.20,1.06,1.19,0.80,0.38,1.07,1.23],[3.04,2.10,1.74,0.60,0.92,1.49,1.42]],
 e:[[0.18,0.17,0.1,0.03,0.03,0.2,0.45],[0.12,0.02,0.05,0.03,0.02,0.02,0.14],[0.05,0.05,0.1,0.05,0.03,0.1,0.12],[0.15,0.12,0.12,0.03,0.05,0.1,0.03]]});

/* chord */
const rib=document.getElementById('rib'),bands=document.getElementById('bands'),gb=document.getElementById('gboxes');
const R=484,RB=462,RIN=440,N=84,PH0=91.6,STEP=176.9/83;
function pt(r,d){const a=d*Math.PI/180;return (r*Math.cos(a)).toFixed(2)+' '+(-r*Math.sin(a)).toFixed(2);}
const GO=[
 {s:90,e:49.5,band:'#c24a4c',fill:'#e01414'},
 {s:48,e:-15.2,band:'#dbc653',fill:'#f6d42a'},
 {s:-16.5,e:-77.5,band:'#9ce055',fill:'#8fe62e'},
 {s:-78.7,e:-80.9,band:'#88dfa4',fill:'#76dca6'},
 {s:-81.3,e:-83.9,band:'#6b9fe0',fill:'#4a8de0'},
 {s:-84.5,e:-86.4,band:'#6a48dc',fill:'#2c1ed4'},
 {s:-87.2,e:-88.9,band:'#c84ac8',fill:'#cc22cc'}];
let seed=12345;function rnd(){seed=(seed*16807)%2147483647;return seed/2147483647;}
const mem=[];
for(let i=0;i<N;i++){const m=[];if(rnd()<0.58)m.push(0);if(rnd()<0.85)m.push(1);if(rnd()<0.9)m.push(2);if(!m.length)m.push(2);mem.push(m);}
const extra={3:[30,73,83],4:[20,24,40,79],5:[6,7,49],6:[8,29]};
for(const t in extra)extra[t].forEach(i=>mem[i].push(+t));
const phi=i=>PH0+STEP*i, HW=0.65;
const gEnd={};
for(let i=0;i<N;i++){const k=mem[i].length;mem[i].forEach((t,j)=>{const a1=phi(i)-HW+j*2*HW/k;gEnd[i+'_'+t]=[a1,a1+2*HW/k];});}
for(let t=0;t<GO.length;t++){
 const genes=[];for(let i=0;i<N;i++)if(mem[i].indexOf(t)>=0)genes.push(i);
 const w=(GO[t].s-GO[t].e)/genes.length;
 genes.forEach((i,q)=>{const t1=GO[t].s-(q+1)*w,t2=GO[t].s-q*w;const a=gEnd[i+'_'+t];
  const d='M'+pt(RIN,a[0])+' A'+RIN+' '+RIN+' 0 0 0 '+pt(RIN,a[1])+' Q0 0 '+pt(RIN,t1)+' A'+RIN+' '+RIN+' 0 0 0 '+pt(RIN,t2)+' Q0 0 '+pt(RIN,a[0])+' Z';
  el('path',{d:d,fill:GO[t].fill,stroke:'#333','stroke-width':0.5,'stroke-opacity':0.85},rib);});
 const s=GO[t].s,e=GO[t].e;
 el('path',{d:'M'+pt(R,s)+' A'+R+' '+R+' 0 0 1 '+pt(R,e)+' L'+pt(RIN,e)+' A'+RIN+' '+RIN+' 0 0 0 '+pt(RIN,s)+' Z',fill:GO[t].band,stroke:'#555','stroke-width':0.8},bands);
}
function lerp(a,b,f){return a.map((v,i)=>Math.round(v+(b[i]-v)*f));}
for(let i=0;i<N;i++){
 let c;
 if(i===0)c=[227,154,146];else if(i===1)c=[238,180,172];else if(i===2)c=[242,198,192];
 else if(i<=35)c=lerp([200,214,245],[124,158,232],(i-3)/32);else c=lerp([124,158,232],[110,148,230],(i-35)/48);
 el('rect',{x:RB,y:-4.3,width:R-RB,height:8.6,transform:'rotate('+(-phi(i)).toFixed(2)+')',fill:'rgb('+c.join(',')+')',stroke:'#555','stroke-width':0.7},gb);
}
})();
</script>
</body></html>
